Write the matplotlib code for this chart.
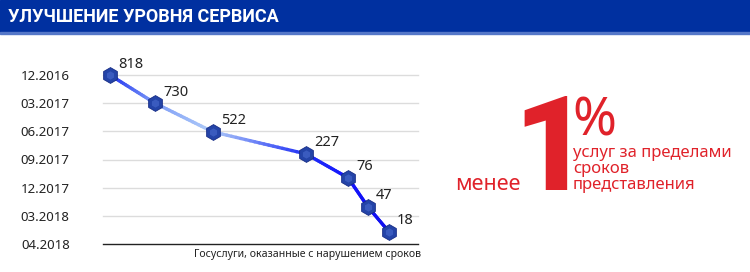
import numpy as np
import matplotlib
matplotlib.use('Agg')
import matplotlib.pyplot as plt
from matplotlib.patches import Rectangle

# данные графика
dates = ['12.2016', '03.2017', '06.2017', '09.2017', '12.2017', '03.2018', '04.2018']
values = [818, 730, 522, 227, 76, 47, 18]
# положение точек на картинке (x — доля ширины, y — в строках дат)
x_pos = [0.022, 0.165, 0.349, 0.644, 0.778, 0.841, 0.908]
y_pos = [0.0, 1.0, 2.02, 2.8, 3.65, 4.68, 5.57]
point_colors = ['#1f2ff0', '#7d9cf7', '#b0ccf8', '#2030f5', '#1515ff', '#1010f5', '#1010f0']

title = 'УЛУЧШЕНИЕ УРОВНЯ СЕРВИСА'
caption = 'Госуслуги, оказанные с нарушением сроков'

plt.rcParams['font.family'] = ['Noto Sans', 'DejaVu Sans']

W, H = 750, 272
fig = plt.figure(figsize=(W / 100, H / 100), dpi=100)

# шапка
fig.patches.append(Rectangle((0, (H - 32) / H), 1, 32 / H, transform=fig.transFigure,
                             color='#0030a0', zorder=0))
fig.patches.append(Rectangle((0, (H - 34) / H), 1, 2 / H, transform=fig.transFigure,
                             color='#5577c8', zorder=0))
fig.text(8 / W, (H - 17) / H, title, color='white', fontsize=13, fontweight='bold',
         family=['Roboto', 'DejaVu Sans'], va='center', ha='left')

ax = fig.add_axes([103 / W, 28 / H, 315 / W, 169 / H])
ax.set_xlim(0, 1)
ax.set_ylim(6, 0)
for s in ['top', 'right', 'left']:
    ax.spines[s].set_visible(False)
ax.spines['bottom'].set_color('#222222')
ax.spines['bottom'].set_linewidth(1)
ax.set_xticks([])
ax.set_yticks(range(len(dates)))
ax.set_yticklabels(dates, fontsize=9.5, color='#222222')
ax.tick_params(axis='y', length=0, pad=24)
for i in range(len(dates) - 1):
    ax.axhline(i, color='#dcdcdc', lw=1, zorder=1, clip_on=False)

# линия с переходом цвета по сегментам
for i in range(len(values) - 1):
    c0 = np.array(matplotlib.colors.to_rgb(point_colors[i]))
    c1 = np.array(matplotlib.colors.to_rgb(point_colors[i + 1]))
    n = 20
    xs = np.linspace(x_pos[i], x_pos[i + 1], n + 1)
    ys = np.linspace(y_pos[i], y_pos[i + 1], n + 1)
    for k in range(n):
        t = (k + 0.5) / n
        ax.plot(xs[k:k + 2], ys[k:k + 2], color=c0 + (c1 - c0) * t, lw=2.4,
                solid_capstyle='round', zorder=3, clip_on=False)

ax.scatter(x_pos, y_pos, marker='h', s=130, color='#2444a8', edgecolor='#152b85',
           linewidth=0.6, zorder=4, clip_on=False)
ax.scatter(x_pos, y_pos, marker='h', s=35, color='#4a6cd0', linewidth=0,
           zorder=5, clip_on=False, alpha=0.6)

for x, y, v in zip(x_pos, y_pos, values):
    ax.annotate(str(v), (x, y), xytext=(8, 11), textcoords='offset pixels',
                fontsize=10.5, color='#222222', ha='left', va='center', annotation_clip=False)

fig.text(421 / W, (H - 255) / H, caption, fontsize=7.6, color='#222222', ha='right', va='center')

# правый блок
red = '#e0222a'
fig.text(455 / W, (H - 190) / H, 'менее', color=red, fontsize=15.5, ha='left', va='baseline')
fig.text(513 / W, (H - 190) / H, '1', color=red, fontsize=94, fontweight='black',
         family=['Roboto', 'DejaVu Sans'], ha='left', va='baseline')
fig.text(572 / W, (H - 135) / H, '%', color=red, fontsize=38, ha='left', va='baseline')
fig.text(573 / W, (H - 145) / H, 'услуг за пределами\nсроков\nпредставления', color=red,
         fontsize=12, ha='left', va='top', linespacing=1.0)

fig.savefig('out.png', dpi=100)
